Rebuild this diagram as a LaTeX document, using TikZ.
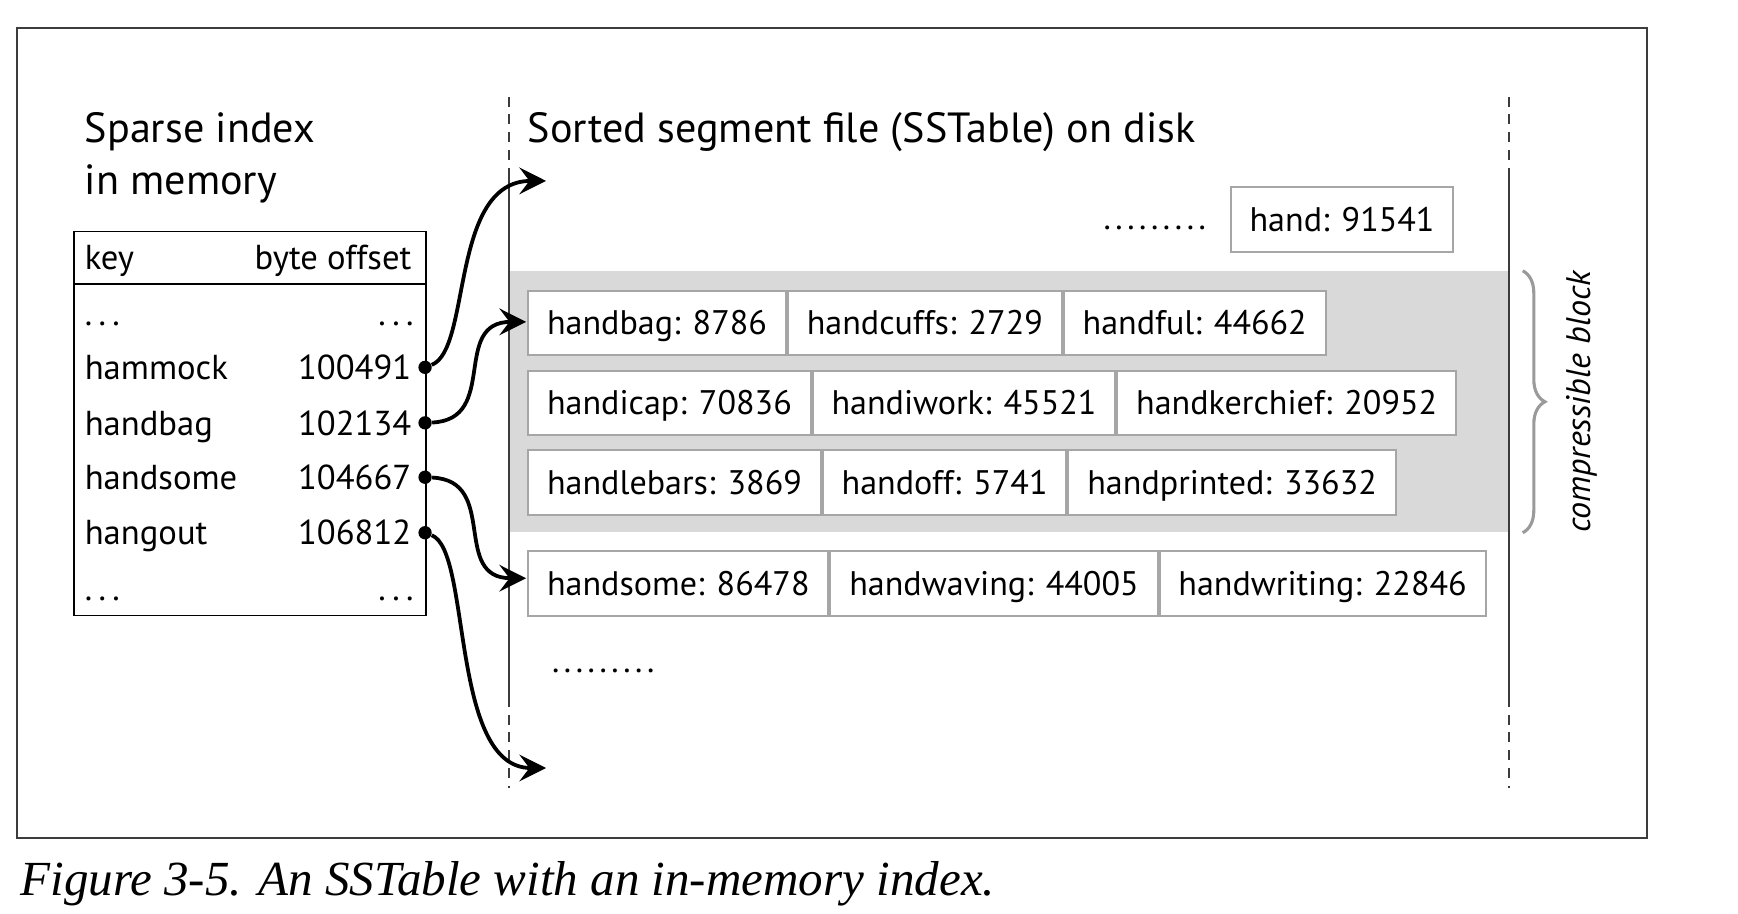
\documentclass[tikz,border=0pt]{standalone}
\usepackage{fontspec}
\setmainfont{PT Sans}
\newfontfamily\captionfont{Liberation Serif}
\usetikzlibrary{arrows.meta,decorations.pathreplacing}
\definecolor{blockgray}{HTML}{D9D9D9}
\definecolor{boxline}{HTML}{A6A6A6}
\definecolor{bracegray}{HTML}{9A9A9A}
\definecolor{framegray}{HTML}{3C3C3C}
\newcommand{\boxfont}{\fontsize{15.35}{18}\selectfont}
\newcommand{\tablefont}{\fontsize{15.6}{18}\selectfont}
\newcommand{\titlefont}{\fontsize{19}{23}\selectfont}

\begin{document}
\begin{tikzpicture}[x=0.5pt,y=-0.5pt,
    entry/.style ={draw=boxline, line width=0.9pt, fill=white, anchor=north west,
                   inner xsep=8.5pt, inner ysep=0pt, minimum height=29pt,
                   text height=10.5pt, text depth=0pt, font=\boxfont},
    cell/.style ={font=\tablefont, inner sep=0pt},
    offsetdot/.style ={circle, fill, inner sep=0pt, minimum size=6pt},
    link/.style ={line width=1.7pt, -{Stealth[length=12pt, width=12pt, inset=4.5pt]}},
    divider/.style ={framegray, line width=0.9pt}]
   \useasboundingbox (0,0) rectangle (1566,823.4);

   % frame and caption
   \draw[framegray, line width=0.8pt] (15,25) rectangle (1484,755);
   \node[anchor=base west, inner sep=0pt, font=\captionfont\itshape\fontsize{22.1}{26}\selectfont]
      (caption) at (18,807) {Figure 3-5. An SSTable with an in-memory index.};

   % titles
   \node[anchor=base west, inner sep=0pt, font=\titlefont] (sparse) at (76,128) {Sparse index};
   \node[anchor=base west, inner sep=0pt, font=\titlefont] (memory) at (76,175) {in memory};
   \node[anchor=base west, inner sep=0pt, font=\titlefont] (disk) at (475,128) {Sorted segment file (SSTable) on disk};

   % compressible block
   \fill[blockgray] (459,244) rectangle (1360,479);
   \draw[bracegray, line width=1.4pt, decorate, decoration={brace, amplitude=10pt}] (1372,244) -- (1372,480);
   \node[rotate=90, font=\boxfont\itshape, inner sep=0pt] (blocklabel) at (1425,362) {compressible block};

   % segment file borders
   \foreach \x in {459,1360} {
      \draw[divider, dash pattern=on 4.5pt off 3.5pt] (\x,87) -- (\x,155);
      \draw[divider] (\x,155) -- (\x,628);
      \draw[divider, dash pattern=on 4.5pt off 3.5pt] (\x,628) -- (\x,710);
   }

   % sparse index table
   \node[draw, line width=0.7pt, anchor=north west, inner sep=0pt,
         minimum width=158.5pt, minimum height=173pt] (index) at (66,208) {};
   \draw[line width=0.7pt] (66,256) -- (383,256);
   \node[cell, anchor=base west] (keyhead) at (76,243) {key};
   \node[cell, anchor=base east] (offhead) at (371,243) {byte offset};
   \node[cell, anchor=base west] (k0) at (76,293) {\addfontfeature{LetterSpace=12}...};
   \node[cell, anchor=base east] (o0) at (373,293) {\addfontfeature{LetterSpace=12}...};
   \node[cell, anchor=base west] (k1) at (76,342) {hammock};
   \node[cell, anchor=base east] (o1) at (371,342) {100491};
   \node[cell, anchor=base west] (k2) at (76,392) {handbag};
   \node[cell, anchor=base east] (o2) at (371,392) {102134};
   \node[cell, anchor=base west] (k3) at (76,441) {handsome};
   \node[cell, anchor=base east] (o3) at (371,441) {104667};
   \node[cell, anchor=base west] (k4) at (76,491) {hangout};
   \node[cell, anchor=base east] (o4) at (371,491) {106812};
   \node[cell, anchor=base west] (k5) at (76,541) {\addfontfeature{LetterSpace=12}...};
   \node[cell, anchor=base east] (o5) at (373,541) {\addfontfeature{LetterSpace=12}...};

   % key-value entries
   \node[cell, font=\boxfont, anchor=base east] (topdots) at (1087,207) {\addfontfeature{LetterSpace=7}.........};
   \node[entry] (hand) at (1108,168) {hand: 91541};

   \node[entry] (handbag) at (475,261) {handbag: 8786};
   \node[entry] (handcuffs) at (handbag.north east) {handcuffs: 2729};
   \node[entry] (handful) at (handcuffs.north east) {handful: 44662};

   \node[entry] (handicap) at (475,333) {handicap: 70836};
   \node[entry] (handiwork) at (handicap.north east) {handiwork: 45521};
   \node[entry] (handkerchief) at (handiwork.north east) {handkerchief: 20952};

   \node[entry] (handlebars) at (475,405) {handlebars: 3869};
   \node[entry] (handoff) at (handlebars.north east) {handoff: 5741};
   \node[entry] (handprinted) at (handoff.north east) {handprinted: 33632};

   \node[entry] (handsome) at (475,496) {handsome: 86478};
   \node[entry] (handwaving) at (handsome.north east) {handwaving: 44005};
   \node[entry] (handwriting) at (handwaving.north east) {handwriting: 22846};

   \node[cell, font=\boxfont, anchor=base west] (bottomdots) at (497,606) {\addfontfeature{LetterSpace=7}.........};

   % pointers from the index into the file
   \node[offsetdot] (d1) at (383,331) {};
   \node[offsetdot] (d2) at (383,381) {};
   \node[offsetdot] (d3) at (383,430) {};
   \node[offsetdot] (d4) at (383,480) {};
   \coordinate (t1) at (492,163);
   \coordinate (t2) at (474,290);
   \coordinate (t3) at (474,521);
   \coordinate (t4) at (492,692);

   \draw[link] (d1) .. controls +(42,-16) and +(-87,0) .. (t1);
   \draw[link] (d2) .. controls +(67,-3) and +(-68,0) .. (t2);
   \draw[link] (d3) .. controls +(67,3) and +(-68,0) .. (t3);
   \draw[link] (d4) .. controls +(42,16) and +(-87,0) .. (t4);
 \end{tikzpicture}
\end{document}
